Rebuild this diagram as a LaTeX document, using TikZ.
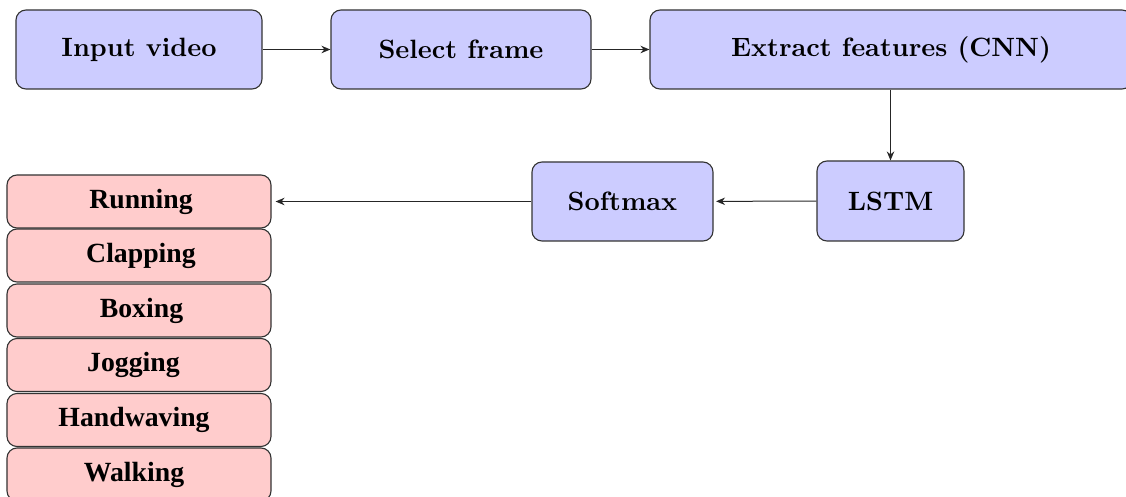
\documentclass[tikz,border=0pt]{standalone}
\usepackage{fontspec}
\newfontfamily\classfont{Liberation Serif}
\usetikzlibrary{arrows.meta}
\newcommand{\shiftx}[2]{\hspace*{#1}#2}
\begin{document}
\begin{tikzpicture}[x=0.4pt,y=-0.4pt,
  stepbox/.style={draw=black!80, fill=blue!20, rounded corners=4pt, line width=0.45pt,
    minimum height=31.6pt, inner sep=0pt, font=\fontsize{10.6}{12}\selectfont\bfseries},
  classbox/.style={draw=black!80, fill=red!20, rounded corners=4pt, line width=0.45pt,
    minimum width=105.6pt, minimum height=21.2pt, inner sep=0pt,
    font=\fontsize{11.1}{13}\selectfont\classfont\bfseries},
  arr/.style={-{Stealth[length=3.6pt,width=3pt]}, line width=0.4pt, black!85}]
\useasboundingbox (0,0) rectangle (1126,497);
\node[stepbox, minimum width=98.4pt] (in) at (139,49.5) {Input video};
\node[stepbox, minimum width=104pt] (sel) at (461,49.5) {Select frame};
\node[stepbox, minimum width=192.8pt] (ext) at (891,49.5) {Extract features (CNN)};
\node[stepbox, minimum width=58.8pt, minimum height=32pt] (lstm) at (890.5,201) {LSTM};
\node[stepbox, minimum width=72.4pt] (soft) at (622.5,201.5) {Softmax};
\node[classbox] (c1) at (139,201.5) {\shiftx{1.6pt}{Running}};
\node[classbox] (c2) at (139,255.5) {\shiftx{1.6pt}{Clapping}};
\node[classbox] (c3) at (139,310.5) {\shiftx{2pt}{Boxing}};
\node[classbox] (c4) at (139,365) {Jogging\hspace*{4.4pt}};
\node[classbox] (c5) at (139,420) {Handwaving\hspace*{4pt}};
\node[classbox] (c6) at (139,474.5) {Walking\hspace*{4pt}};
\draw[arr] (in) -- (sel);
\draw[arr] (sel) -- (ext);
\draw[arr] (lstm.north |- ext.south) -- (lstm.north);
\draw[arr, shorten >=1pt] (lstm) -- (soft);
\draw[arr, shorten >=1.6pt] (soft.west) -- (soft.west -| c1.east);
\end{tikzpicture}
\end{document}
